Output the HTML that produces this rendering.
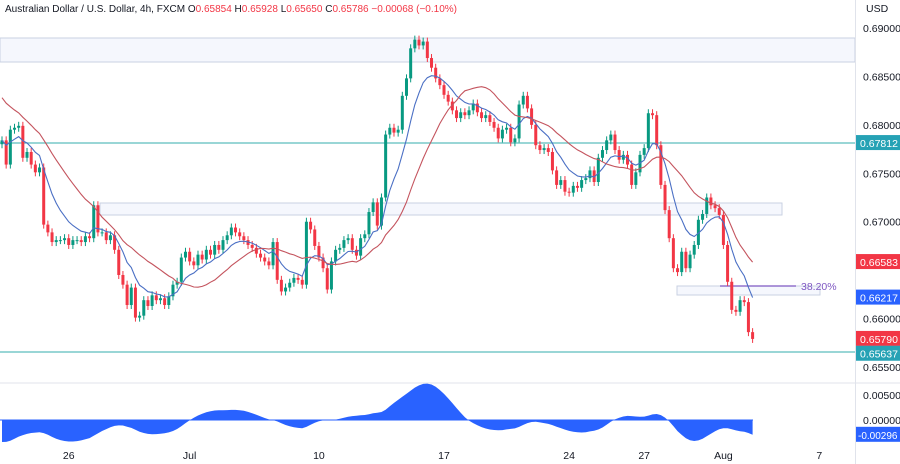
<!DOCTYPE html>
<html><head><meta charset="utf-8"><style>
body{margin:0;background:#fff;font-family:"Liberation Sans",sans-serif;}
svg{display:block}
text{font-family:"Liberation Sans",sans-serif;font-size:10.5px;fill:#131722}
</style></head><body>
<svg id="c" width="900" height="464">
<rect x="0" y="0" width="900" height="464" fill="#fff"/>
<g id="zones">
<rect x="0" y="38" width="855" height="24" fill="#f5f7fd" stroke="#c9d1e2" stroke-width="1"/>
<rect x="100" y="203" width="682" height="12" fill="#f5f7fd" stroke="#c9d1e2" stroke-width="1"/>
<rect x="677" y="286" width="143" height="9" fill="#f5f7fd" stroke="#c9d1e2" stroke-width="1"/>
<line x1="0" y1="143" x2="855" y2="143" stroke="#5cbdbd" stroke-width="1.3"/>
<line x1="0" y1="352" x2="855" y2="352" stroke="#5cbdbd" stroke-width="1.3"/>
<line x1="720" y1="286" x2="796" y2="286" stroke="#7e57c2" stroke-width="1.2"/>
<text x="801" y="290" style="fill:#7e57c2;font-size:10.5px">38.20%</text>
</g>
<g id="candles"></g><g id="mas"></g>
<line x1="0" y1="383" x2="900" y2="383" stroke="#e0e3eb"/>
<line x1="0" y1="420" x2="753" y2="420" stroke="#2962ff" stroke-width="1"/>
<g id="osc"></g>
<line x1="855.5" y1="0" x2="855.5" y2="464" stroke="#e0e3eb"/>
<g id="axis"></g>
<text x="5" y="12" style="font-size:10px">Australian Dollar / U.S. Dollar, 4h, FXCM <tspan>O</tspan><tspan style="fill:#f23645">0.65854</tspan> H<tspan style="fill:#f23645">0.65928</tspan> L<tspan style="fill:#f23645">0.65650</tspan> C<tspan style="fill:#f23645">0.65786</tspan> <tspan style="fill:#f23645">−0.00068 (−0.10%)</tspan></text>
<text x="866" y="12" style="font-size:10.5px">USD</text>
</svg>
<script>
const priorCloses=[0.6872,0.6868,0.6865,0.6860,0.6856,0.6850,0.6846,0.6841,0.6835,0.6830,0.6826,0.6820,0.6815,0.6810,0.6806,0.6800,0.6797,0.6792,0.6788];
const closes=[0.6784,0.6759,0.6795,0.6797,0.6799,0.6766,0.6772,0.6759,0.6751,0.6756,0.6697,
0.6689,0.6679,0.6681,0.6681,0.6683,0.6676,0.6681,0.6681,0.6679,0.6685,
0.6683,0.6717,0.6689,0.6689,0.6681,0.6686,0.6671,0.6645,0.6635,0.6614,0.6632,0.6601,0.6603,0.6619,0.6613,0.6624,0.6619,0.6621,0.6614,
0.6623,0.6635,0.6638,0.6663,0.6669,0.6659,0.6655,0.6666,0.6661,0.6671,
0.6666,0.6676,0.6671,0.6681,0.6686,0.6694,0.6689,0.6685,0.6681,0.6676,
0.6673,0.6667,0.6663,0.6659,0.6655,0.6679,0.6640,0.6628,0.6632,0.6637,
0.6642,0.6640,0.6635,0.6700,0.6692,0.6675,0.6663,0.6652,0.6630,0.6659,
0.6671,0.6673,0.6681,0.6683,0.6671,0.6665,0.6683,0.6687,0.6710,0.6720,
0.6696,0.6725,0.6790,0.6797,0.6792,0.6795,0.6830,0.6848,0.6879,0.6888,
0.6882,0.6886,0.6869,0.6859,0.6848,0.6841,0.6831,0.6824,0.6815,0.6807,
0.6813,0.6810,0.6815,0.6822,0.6813,0.6807,0.6810,0.6803,0.6797,0.6786,
0.6795,0.6797,0.6782,0.6786,0.6821,0.6830,0.6817,0.6800,0.6779,0.6774,
0.6776,0.6772,0.6753,0.6738,0.6743,0.6731,0.6730,0.6737,0.6735,0.6743,
0.6745,0.6753,0.6741,0.6766,0.6774,0.6784,0.6790,0.6774,0.6764,0.6769,
0.6759,0.6738,0.6751,0.6769,0.6776,0.6812,0.6810,0.6779,0.6738,0.6712,
0.6683,0.6652,0.6648,0.6669,0.6652,0.6666,0.6676,0.6702,0.6708,0.6725,
0.6717,0.6714,0.6707,0.6676,0.6638,0.6609,0.6607,0.6619,0.6617,0.6586,0.6579];
const firstOpen=[0.6780];
const priceTicks=["0.69000","0.68500","0.68000","0.67500","0.67000","0.66000","0.65500"];
const dateLabels=["26","Jul","10","17","24","27","Aug","7"];
const dateIdx=[16,45,76,106,136,154,173,196];
const oscTicks=["0.00500","0.00000"];
const NS="http://www.w3.org/2000/svg";
const y=p=>28+(0.69-p)*9686;
const x=i=>2+i*4.17;
const yo=v=>420-v*5000;
function el(t,a,parent){const e=document.createElementNS(NS,t);for(const k in a)e.setAttribute(k,a[k]);parent.appendChild(e);return e;}
const cg=document.getElementById('candles');
closes.forEach((c,i)=>{
 const o=i===0?firstOpen[0]:closes[i-1];
 const up=c>=o, col=up?'#089981':'#f23645';
 const top=y(Math.max(o,c)), bot=y(Math.min(o,c));
 const w=el('line',{x1:x(i),x2:x(i),y1:top-4,y2:bot+4,stroke:col,'stroke-width':1},cg);
 
 
 const b=el('rect',{x:x(i)-1.5,y:top,width:3,height:Math.max(1,bot-top),fill:col},cg);
 
 
});
function emaOf(arr,n,seed){const k=2/(n+1);let v=seed;return arr.map(c=>(v=c*k+v*(1-k)));}
const all=priorCloses.concat(closes);
function sma(n){return closes.map((c,i)=>{const j=i+priorCloses.length;let s=0,m=0;for(let k=Math.max(0,j-n+1);k<=j;k++){s+=all[k];m++;}return s/m;});}
const fast=emaOf(closes,9,closes[0]), slow=sma(20);
const mg=document.getElementById('mas');
const pf=el('path',{d:fast.map((v,i)=>(i?'L':'M')+x(i).toFixed(1)+','+y(v).toFixed(1)).join(''),fill:'none',stroke:'#4a6fc4','stroke-width':1.1},mg);


const ps=el('path',{d:slow.map((v,i)=>(i?'L':'M')+x(i).toFixed(1)+','+y(v).toFixed(1)).join(''),fill:'none',stroke:'#c4545e','stroke-width':1.1},mg);


const rawOsc=fast.map((v,i)=>v-slow[i]);
const osc=emaOf(rawOsc,5,rawOsc[0]);
const og=document.getElementById('osc');
let d='M'+x(0)+',420'+osc.map((v,i)=>'L'+x(i).toFixed(1)+','+yo(v).toFixed(1)).join('')+'L'+x(osc.length-1).toFixed(1)+',420Z';
const oa=el('path',{d:d,fill:'#2962ff'},og);


const ax=document.getElementById('axis');
priceTicks.forEach(t=>{const tt=el('text',{x:863,y:y(parseFloat(t))+4},ax);tt.textContent=t;
 
 });
oscTicks.forEach(t=>{const tt=el('text',{x:863,y:yo(parseFloat(t))+4},ax);tt.textContent=t;
 
 });
dateLabels.forEach((t,j)=>{const tt=el('text',{x:x(dateIdx[j]),y:459,'text-anchor':'middle'},ax);tt.textContent=t;
 
 });
const tags=[[0.67812,'#26a2b5'],[slow[slow.length-1],'#f23645'],[fast[fast.length-1],'#2962ff'],[closes[closes.length-1],'#f23645'],[0.65637,'#26a2b5']];
tags.forEach(([v,c])=>{const g=el('g',{},ax);
 
 
 const yy=y(v);el('rect',{x:856,y:yy-8,width:44,height:15,fill:c},g);
 const t=el('text',{x:860,y:yy+4,style:'fill:#fff;font-size:10.5px'},g);t.textContent=v.toFixed(5);});
const lastO=osc[osc.length-1];
const og2=el('g',{},ax);


el('rect',{x:856,y:yo(lastO)-8,width:44,height:15,fill:'#2962ff'},og2);
const ot=el('text',{x:858,y:yo(lastO)+4,style:'fill:#fff;font-size:10px'},og2);ot.textContent=(lastO<0?'-':'')+Math.abs(lastO).toFixed(5);
</script>
</body></html>
